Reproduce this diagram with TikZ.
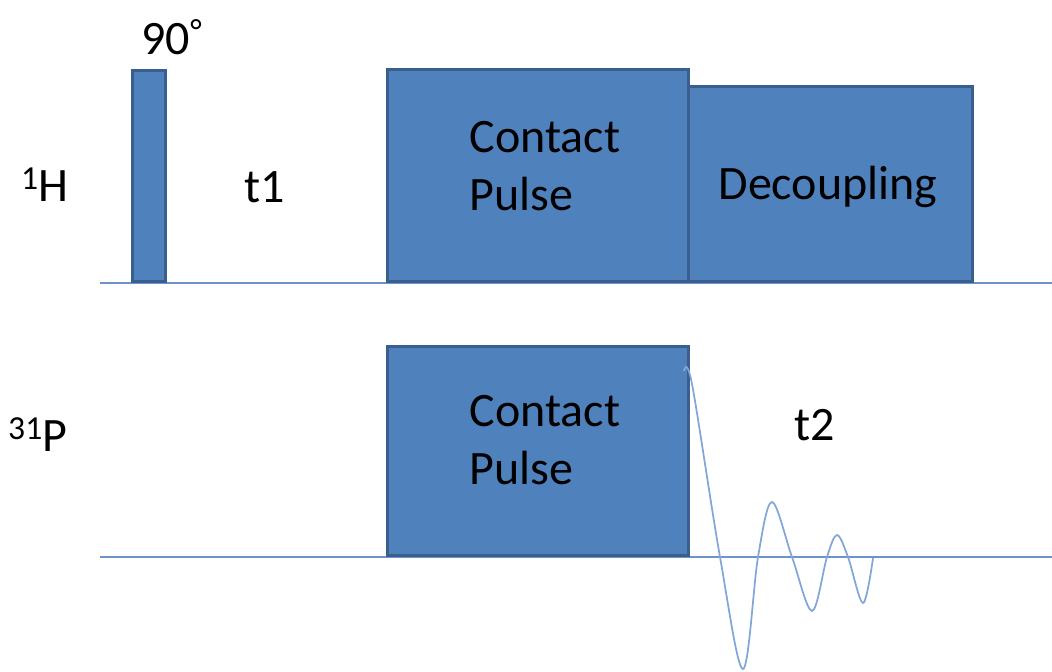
\documentclass[tikz,border=0pt]{standalone}
\usepackage{fontspec}
\setmainfont{Carlito}
\definecolor{pulseblue}{HTML}{4F81BD}
\definecolor{pulseedge}{HTML}{3A5F8F}
\definecolor{axisblue}{HTML}{6D94C8}
\definecolor{fidblue}{HTML}{82A6D8}

\begin{document}
\begin{tikzpicture}[x=0.75pt,y=-0.75pt,
  pulse/.style={draw=pulseedge, fill=pulseblue, line width=2.2pt, anchor=south west, inner sep=0pt},
  lbl/.style={font=\fontsize{36}{44}\selectfont, inner sep=0pt},
  axis/.style={draw=axisblue, line width=1.6pt},
  fid/.style={draw=fidblue, line width=1.3pt}]
  \useasboundingbox (0,0) rectangle (1052,671);
  % channel base lines
  \draw[axis] (100,283) -- (1052,283);
  \draw[axis] (100,557) -- (1052,557);
  % 1H channel
  \node[pulse, minimum width=33*0.75pt, minimum height=211*0.75pt] (p90) at (131,283) {};
  \node[pulse, minimum width=301*0.75pt, minimum height=212*0.75pt] (cpH) at (386,283) {};
  \node[pulse, minimum width=284*0.75pt, minimum height=195*0.75pt] (dec) at (687,283) {};
  % 31P channel
  \node[pulse, minimum width=301*0.75pt, minimum height=209*0.75pt] (cpP) at (386,557) {};
  % labels
  \node[lbl] (deg) at (172,37) {90\textsuperscript{°}};
  \node[lbl] (hlab) at (45,185) {\textsuperscript{1}H};
  \node[lbl] (plab) at (38,435) {\textsuperscript{31}P};
  \node[lbl] (tone) at (265,187) {t1};
  \node[lbl] (ttwo) at (815,425) {t2};
  \node[lbl, align=left] (cpHtxt) at (545,166) {Contact\\Pulse};
  \node[lbl] (dectxt) at (828,187) {Decoupling};
  \node[lbl, align=left] (cpPtxt) at (545,440) {Contact\\Pulse};
  % free induction decay
  \draw[fid] plot[smooth, tension=0.55] coordinates {(684,371) (692,384) (720,557) (743,669) (758,557) (772,502) (792,557) (812,611) (827,557) (837,535) (848,557) (863,603) (873,558)};
\end{tikzpicture}
\end{document}
